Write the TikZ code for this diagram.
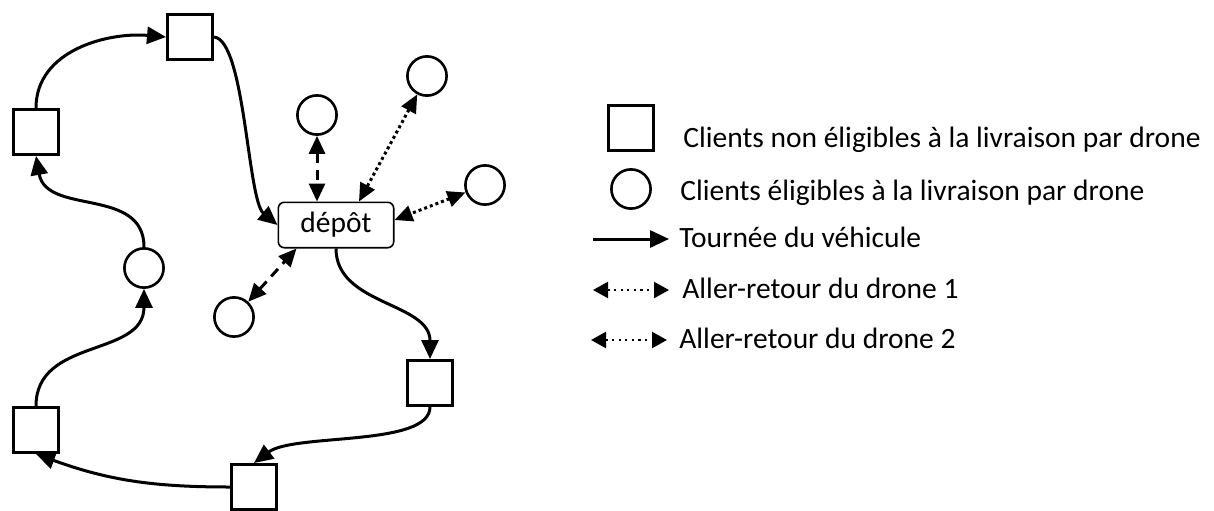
\documentclass[tikz,border=0pt]{standalone}
\usepackage{fontspec}
\setmainfont{Carlito}
\usepackage{tikz}
\usetikzlibrary{arrows.meta}
\usetikzlibrary{positioning}

\begin{document}
\begin{tikzpicture}[x=0.5pt, y=0.5pt, font=\fontsize{14.75}{18}\selectfont,
  client/.style={draw, line width=1.6pt, minimum size=22.4pt, inner sep=0pt},
  droneclient/.style={draw, circle, line width=1.3pt, minimum size=19.6pt, inner sep=0pt},
  depotbox/.style={draw, rounded corners=3pt, line width=0.8pt, minimum width=57.7pt, minimum height=22.7pt, inner sep=0pt},
  tour/.style={line width=1.5pt, -{Triangle[length=9.5pt,width=8.5pt]}},
  droneone/.style={line width=1.5pt, dash pattern=on 5pt off 3.5pt, {Triangle[length=9pt,width=8pt]}-{Triangle[length=9pt,width=8pt]}},
  dronetwo/.style={line width=1.5pt, dash pattern=on 1.5pt off 1.5pt, {Triangle[length=9pt,width=8pt]}-{Triangle[length=9pt,width=8pt]}},
  legdrone/.style={line width=1.1pt, dash pattern=on 1.1pt off 2.2pt, {Triangle[length=7.5pt,width=8pt]}-{Triangle[length=7.5pt,width=8pt]}},
  legtext/.style={anchor=base west, inner sep=0pt}]
\useasboundingbox (0,0) rectangle (1214,510);
% depot
\node (depot) [depotbox] at (336,285) {dépôt};
% clients on the vehicle tour
\node (s1) [client] at (190,473) {};
\node (s2) [client] at (36,378) {};
\node (c1) [droneclient] at (144,242) {};
\node (s3) [client] at (36,80) {};
\node (s4) [client] at (254,23) {};
\node (s5) [client] at (430,127) {};
% drone clients
\node (c2) [droneclient] at (317,395) {};
\node (c3) [droneclient] at (427,434) {};
\node (c4) [droneclient] at (485,325) {};
\node (c5) [droneclient] at (234,193) {};
% vehicle tour
\draw [tour] (s2.north) to[out=90, in=175] (s1.west);
\draw [tour] (s1.east) .. controls +(31,-3) and +(-30,25) .. (depot.west);
\draw [tour] (depot.south) to[out=-90, in=90] (s5.north);
\draw [tour] (s5.south) .. controls +(0,-40) and +(40,30) .. (s4.north);
\draw [tour] (s4.west) to[out=180, in=-20] (s3.south);
\draw [tour] (s3.north) to[out=90, in=-90, looseness=1.1] (c1.south);
\draw [tour] (c1.north) to[out=90, in=-80, looseness=1.1] (s2.south);
% drone trips
\draw [droneone] (c2.south) -- (c2.south |- depot.north);
\draw [droneone] (c5.47) -- ([xshift=9.5pt]depot.south west);
\draw [dronetwo] (c3.242) -- ([xshift=11.5pt]depot.north);
\draw [dronetwo] (c4.201) -- ([yshift=2.5pt]depot.east);
% legend
\node (legsq) [client] at (631,382) {};
\node (legci) [droneclient] at (631,321) {};
\node (legnon) [legtext] at (683,363) {Clients non éligibles à la livraison par drone};
\node (legelig) [legtext] at (680,310) {Clients éligibles à la livraison par drone};
\coordinate (tourA) at (593,271);
\coordinate (tourB) at (669,271);
\draw [tour] (tourA) -- (tourB);
\node (legtour) [legtext] at (679,263) {Tournée du véhicule};
\coordinate (oneA) at (593,220);
\coordinate (oneB) at (669,220);
\draw [legdrone] (oneA) -- (oneB);
\node (legone) [legtext] at (682,212) {Aller-retour du drone 1};
\coordinate (twoA) at (591,170);
\coordinate (twoB) at (667,170);
\draw [legdrone] (twoA) -- (twoB);
\node (legtwo) [legtext] at (679,162) {Aller-retour du drone 2};
\end{tikzpicture}
\end{document}
